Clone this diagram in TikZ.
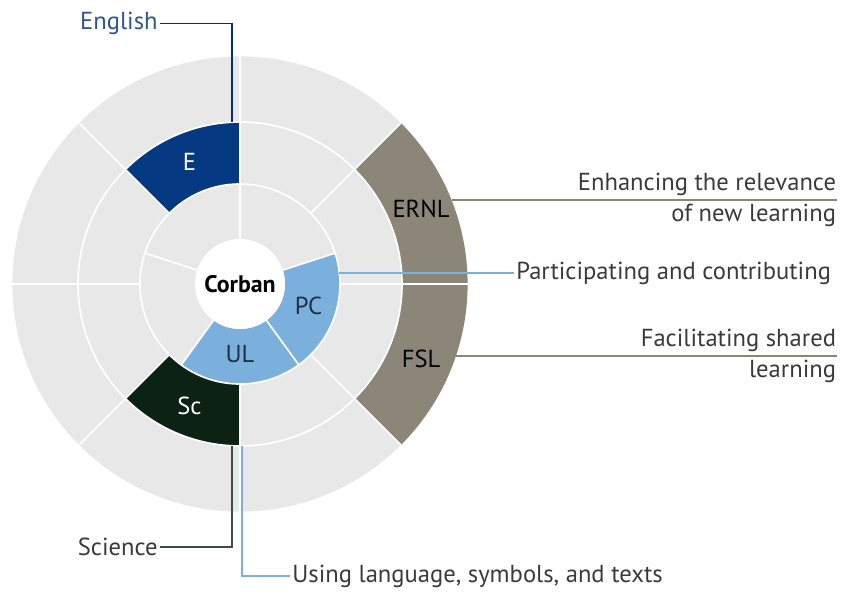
\documentclass[tikz,border=0pt]{standalone}
\usepackage{fontspec}
\setmainfont{PT Sans}

\definecolor{ringgray}{HTML}{E8E8E8}
\definecolor{englishblue}{HTML}{053A82}
\definecolor{sciencegreen}{HTML}{0B2215}
\definecolor{keyblue}{HTML}{7BB0DD}
\definecolor{taupe}{HTML}{8B8678}
\definecolor{labelgray}{HTML}{3A3A3A}
\definecolor{englishtext}{HTML}{2F5590}
\definecolor{keytext}{HTML}{1D2F48}

% Fill one piece of a ring: colour, inner radius, outer radius, start and end angle
\newcommand{\ringpart}[5]{%
	\fill [#1] (#4 : #2) arc [start angle = #4, end angle = #5, radius = #2] -- (#5 : #3) arc [start angle = #5, end angle = #4, radius = #3] -- cycle;
}

\tikzset{
	sep/.style = {white, line width = 1.2pt},
	tag/.style = {text = labelgray, inner sep = 1.5pt},
	link/.style = {line width = 0.8pt}
}

\begin{document}

\begin{tikzpicture}[font = \fontsize{17.5}{20}\selectfont]

	\useasboundingbox (-6, -7.7) rectangle (15.175, 7.1);

	% Connector ends on the rings
	
	\coordinate (e tip) at (-0.2, 4.04);
	\coordinate (sc tip) at (-0.2, -4.04);
	\coordinate (ul tip) at (0.05, -4.05);
	\coordinate (pc tip) at (2.485, 0.275);
	\coordinate (ernl tip) at (5.288, 2.1);
	\coordinate (ernl end) at (14.925, 2.1);
	\coordinate (fsl tip) at (5.398, -1.8);
	\coordinate (fsl end) at (14.925, -1.8);

	% Base disc
	
	\fill [ringgray] (0, 0) circle (5.69 cm);
	
	% Highlighted parts
	
	\ringpart{englishblue}{2.5}{4.05}{90}{135}
	\ringpart{sciencegreen}{2.5}{4.05}{225}{270}
	\ringpart{keyblue}{1.125}{2.5}{234}{306}
	\ringpart{keyblue}{1.125}{2.5}{306}{378}
	\ringpart{taupe}{4.05}{5.69}{0}{45}
	\ringpart{taupe}{4.05}{5.69}{-45}{0}
	
	% White separators
	
	\draw [sep] (0, 0) circle (2.5 cm) (0, 0) circle (4.05 cm);
	\foreach \a in {18, 90, ..., 306}
		\draw [sep] (\a : 1.125) -- (\a : 2.5);
	\foreach \a in {0, 45, ..., 315}
		\draw [sep] (\a : 2.5) -- (\a : 5.69);
	\fill [white] (0, 0) circle (1.125 cm);
	
	% Part labels
	
	\node [white] (e) at (112.5 : 3.3) {E};
	\node [white] (sc) at (247.5 : 3.3) {Sc};
	\node [keytext] (ul) at (270 : 1.75) {UL};
	\node [keytext] (pc) at (342 : 1.8) {PC};
	\node [black] (ernl) at (22.5 : 4.9) {ERNL};
	\node [black] (fsl) at (-22.5 : 4.9) {FSL};
	\node [black, font = \fontsize{17}{20}\selectfont\bfseries] (corban) at (0, 0) {Corban};
	
	% Outside labels and their connectors
	
	\node [tag, text = englishtext, anchor = east] (english) at (-2.0, 6.52) {English};
	\draw [link, englishblue!85!black] (english.east) -| (e tip);
	
	\node [tag, anchor = east] (science) at (-2.0, -6.575) {Science};
	\draw [link, sciencegreen!80!white] (science.east) -| (sc tip);
	
	\node [tag, anchor = west] (using) at (1.25, -7.3) {Using language, symbols, and texts};
	\draw [link, keyblue] (ul tip) |- (using.west);
	
	\node [tag, anchor = west] (participating) at (6.85, 0.275) {Participating and contributing};
	\draw [link, keyblue] (pc tip) -- (participating.west);
	
	\draw [link, taupe] (ernl tip) -- (ernl end);
	\node [tag, inner xsep = 0.5pt, inner ysep = 3pt, anchor = south east] (relevance) at (ernl end) {Enhancing the relevance};
	\node [tag, inner xsep = 0.5pt, inner ysep = 3pt, anchor = north east] (new learning) at (ernl end) {of new learning};
	
	\draw [link, taupe] (fsl tip) -- (fsl end);
	\node [tag, inner xsep = 0.5pt, inner ysep = 3pt, anchor = south east] (shared) at (fsl end) {Facilitating shared};
	\node [tag, inner xsep = 0.5pt, inner ysep = 3pt, anchor = north east] (shared learning) at (fsl end) {learning};

\end{tikzpicture}

\end{document}
